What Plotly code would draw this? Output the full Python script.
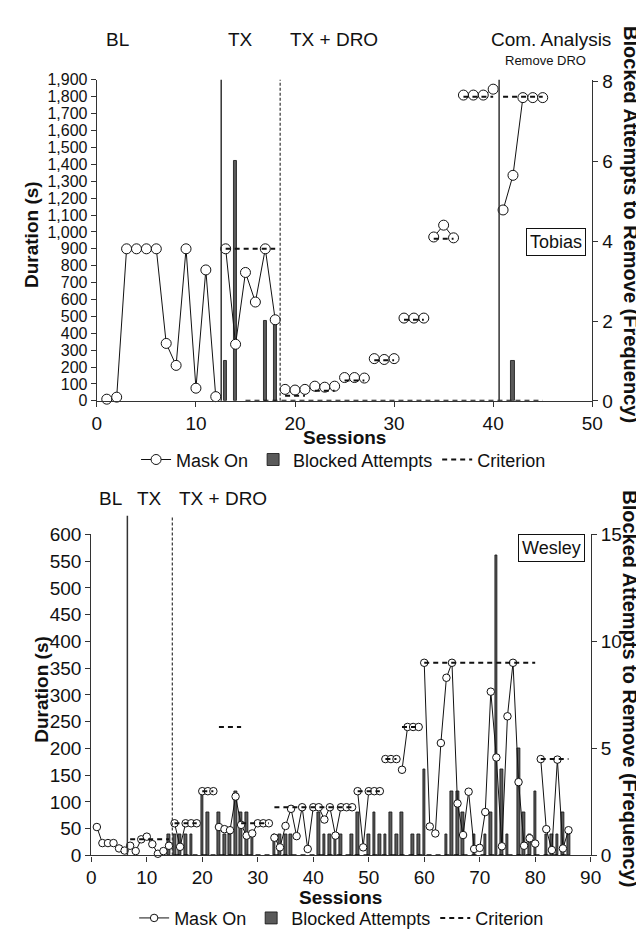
import plotly.graph_objects as go

W, H = 644, 931

# ---------------- Tobias (top panel) ----------------
tob_sessions = list(range(1, 46))
tob_mask_on = [10, 22, 900, 900, 900, 900, 340, 210, 900, 75, 775, 25,
               900, 335, 760, 585, 900, 480,
               68, 64, 68, 87, 81, 87, 138, 138, 135, 250, 245, 250,
               490, 490, 490, 970, 1040, 965, 1810, 1810, 1810, 1845,
               1130, 1335, 1795, 1795, 1795]
tob_breaks_after = [12, 18, 21, 24, 27, 30, 33, 36, 40]
tob_bar_sessions = [13, 14, 17, 18, 42]
tob_bar_values = [1, 6, 2, 2, 1]
tob_crit_start = [13, 19, 22, 25, 28, 31, 34, 37, 41, 15]
tob_crit_end = [18, 21, 24, 27, 30, 33, 36, 40, 45, 45]
tob_crit_value = [900, 30, 60, 120, 240, 480, 960, 1800, 1800, 0]
tob_phase_x = [12.55, 18.5, 40.6]
tob_phase_solid = [True, False, True]
tob_phase_labels = ["BL", "TX", "TX + DRO", "Com. Analysis"]

# ---------------- Wesley (bottom panel) ----------------
wes_sessions = list(range(1, 87))
wes_mask_on = [53, 23, 23, 23, 13, 9,
               18, 8, 30, 35, 21, 3, 8, 18,
               60, 16, 60, 60, 60, 120, 120, 120,
               53, 49, 47, 110, 57, 37, 41, 60, 60, 60,
               33, 15, 55, 87, 36, 90, 12, 90, 90, 67, 90, 37, 90, 90, 90,
               120, 15, 120, 120, 120, 180, 180, 180, 160, 240, 240, 240,
               360, 54, 41, 210, 332, 360, 97, 38, 119, 12, 14, 81, 306,
               183, 17, 260, 360, 137, 18, 32, 22,
               180, 49, 10, 179, 13, 47]
wes_breaks_after = [6, 14, 19, 22, 32, 47, 52, 55, 59, 80]
wes_bar_sessions = [14, 15, 16, 17, 18, 20, 21, 23, 24, 25, 26, 27, 28, 29,
                    33, 34, 35, 36, 41, 42, 43, 44, 45, 47, 48, 50, 51, 52,
                    53, 54, 55, 56, 58, 59, 60, 64, 65, 66, 67, 69, 71, 72,
                    73, 74, 75, 77, 78, 79, 80, 82, 83, 84, 85, 86]
wes_bar_values = [1, 1, 1, 1, 1, 3, 2, 2, 1, 1, 3, 2, 2, 1,
                  1, 1, 1, 1, 2, 1, 1, 1, 1, 1, 2, 1, 2, 1,
                  1, 2, 1, 2, 1, 1, 4, 1, 3, 3, 2, 1, 1, 2,
                  14, 4, 1, 5, 2, 1, 3, 1, 1, 1, 2, 1]
wes_crit_start = [7, 15, 20, 23, 27, 33, 48, 53, 56, 60, 81, 15]
wes_crit_end = [14, 19, 22, 27, 32, 47, 52, 55, 59, 80, 86, 86]
wes_crit_value = [30, 60, 120, 240, 60, 90, 120, 180, 240, 360, 180, 0]
wes_phase_x = [6.5, 14.6]
wes_phase_solid = [True, False]
wes_phase_labels = ["BL", "TX", "TX + DRO"]

FONT = "Liberation Sans, Arial, sans-serif"
AX = "#333333"


def px(x):
    return x / W


def py(y):
    return 1 - y / H


def with_breaks(sessions, values, breaks_after):
    xs, ys = [], []
    for s, v in zip(sessions, values):
        xs.append(s)
        ys.append(v)
        if s in breaks_after:
            xs.append(None)
            ys.append(None)
    return xs, ys


def segments(starts, ends, values):
    xs, ys = [], []
    for s, e, v in zip(starts, ends, values):
        xs += [s, e, None]
        ys += [v, v, None]
    return xs, ys


fig = go.Figure()


def add_panel(xa, ya_freq, ya_dur, legend, sessions, mask, breaks,
              bar_s, bar_v, cs, ce, cv, bar_w, msize):
    fig.add_trace(go.Bar(
        x=bar_s, y=bar_v, xaxis=xa, yaxis=ya_freq, width=bar_w,
        marker=dict(color="#5a5a5a", line=dict(color="#111111", width=0.8)),
        name="Blocked Attempts", legend=legend, legendrank=2))
    mx, my = with_breaks(sessions, mask, breaks)
    fig.add_trace(go.Scatter(
        x=mx, y=my, xaxis=xa, yaxis=ya_dur, mode="lines+markers",
        line=dict(color="#111111", width=1),
        marker=dict(symbol="circle", size=msize, color="white",
                    line=dict(color="#111111", width=1)),
        cliponaxis=False, name="Mask On", legend=legend, legendrank=1))
    cx, cy = segments(cs, ce, cv)
    fig.add_trace(go.Scatter(
        x=cx, y=cy, xaxis=xa, yaxis=ya_dur, mode="lines",
        line=dict(color="#111111", width=2, dash="5px,4px"),
        cliponaxis=False, name="Criterion", legend=legend, legendrank=3))


add_panel("x", "y", "y2", "legend", tob_sessions, tob_mask_on, tob_breaks_after,
          tob_bar_sessions, tob_bar_values, tob_crit_start, tob_crit_end,
          tob_crit_value, 0.34, 10)
add_panel("x2", "y3", "y4", "legend2", wes_sessions, wes_mask_on, wes_breaks_after,
          wes_bar_sessions, wes_bar_values, wes_crit_start, wes_crit_end,
          wes_crit_value, 0.48, 7.5)


def axis_common(size=19):
    return dict(showline=True, linecolor=AX, linewidth=1.3, ticks="outside",
                ticklen=5, tickwidth=1.2, tickcolor=AX, showgrid=False,
                zeroline=False, tickfont=dict(family=FONT, size=size, color="#111"))


top_x = [px(86), px(594)]
top_y = [py(391.7), py(63.3)]
bot_x = [px(80.3), px(592.4)]
bot_y = [py(856.7), py(528.3)]

fig.update_layout(
    width=W, height=H, margin=dict(l=0, r=0, t=0, b=0),
    paper_bgcolor="white", plot_bgcolor="rgba(0,0,0,0)",
    bargap=0, barmode="overlay", font=dict(family=FONT, color="#111"),
    xaxis=dict(domain=top_x, anchor="y", range=[0, 50], tickvals=[0, 10, 20, 30, 40, 50],
               **axis_common()),
    yaxis=dict(domain=top_y, anchor="x", side="right", range=[0, 8.04],
               tickvals=[0, 2, 4, 6, 8], **axis_common()),
    yaxis2=dict(overlaying="y", anchor="x", side="left", range=[0, 1900], dtick=100,
                tick0=0, tickformat=",d", **axis_common(16)),
    xaxis2=dict(domain=bot_x, anchor="y3", range=[0, 90], dtick=10, tick0=0,
                **axis_common()),
    yaxis3=dict(domain=bot_y, anchor="x2", side="right", range=[0, 15],
                tickvals=[0, 5, 10, 15], **axis_common()),
    yaxis4=dict(overlaying="y3", anchor="x2", side="left", range=[0, 600], dtick=50,
                tick0=0, **axis_common()),
    legend=dict(orientation="h", x=px(339), xanchor="center", y=py(452), yanchor="middle",
                font=dict(family=FONT, size=18, color="#111"), itemwidth=30,
                bgcolor="rgba(0,0,0,0)", tracegroupgap=0),
    legend2=dict(orientation="h", x=px(337), xanchor="center", y=py(921), yanchor="middle",
                 font=dict(family=FONT, size=18, color="#111"), itemwidth=30,
                 bgcolor="rgba(0,0,0,0)", tracegroupgap=0),
)

shapes = []
for xv, solid in zip(tob_phase_x, tob_phase_solid):
    shapes.append(dict(type="line", xref="x", yref="y domain", x0=xv, x1=xv, y0=0, y1=1,
                       line=dict(color=AX, width=1.5 if solid else 1.2,
                                 dash="solid" if solid else "3px,2px")))
for xv, solid in zip(wes_phase_x, wes_phase_solid):
    shapes.append(dict(type="line", xref="x2", yref="y3 domain", x0=xv, x1=xv, y0=0, y1=1.058,
                       line=dict(color=AX, width=1.5 if solid else 1.2,
                                 dash="solid" if solid else "3px,2px")))
fig.update_layout(shapes=shapes)

ann = []


def text(t, x, y, size=19, angle=0, **kw):
    ann.append(dict(text=t, x=px(x), y=py(y), xref="paper", yref="paper",
                    showarrow=False, textangle=angle, xanchor="center", yanchor="middle",
                    font=dict(family=FONT, size=size, color="#111"), **kw))


for lab, xc in zip(tob_phase_labels, [107, 233, 329, 552]):
    text(lab, xc, 22)
text("Remove DRO", 546, 43, size=13)
for lab, xc in zip(wes_phase_labels, [100, 140, 215]):
    text(lab, xc, 492)

text("<b>Duration (s)</b>", 19.5, 222, size=19, angle=-90)
text("<b>Duration (s)</b>", 29, 687, size=19, angle=-90)
text("<b>Blocked Attempts to Remove (Frequency)</b>", 633, 211, size=20, angle=90)
text("<b>Blocked Attempts to Remove (Frequency)</b>", 633, 686, size=20, angle=90)
text("<b>Sessions</b>", 340, 429, size=19)
text("<b>Sessions</b>", 336, 900, size=19)
text("Tobias", 556.7, 229.5, size=18, bordercolor="#111", borderwidth=1, borderpad=3)
text("Wesley", 552.5, 542, size=18, bordercolor="#111", borderwidth=1, borderpad=3)
fig.update_layout(annotations=ann)

fig.write_html("out.html")
